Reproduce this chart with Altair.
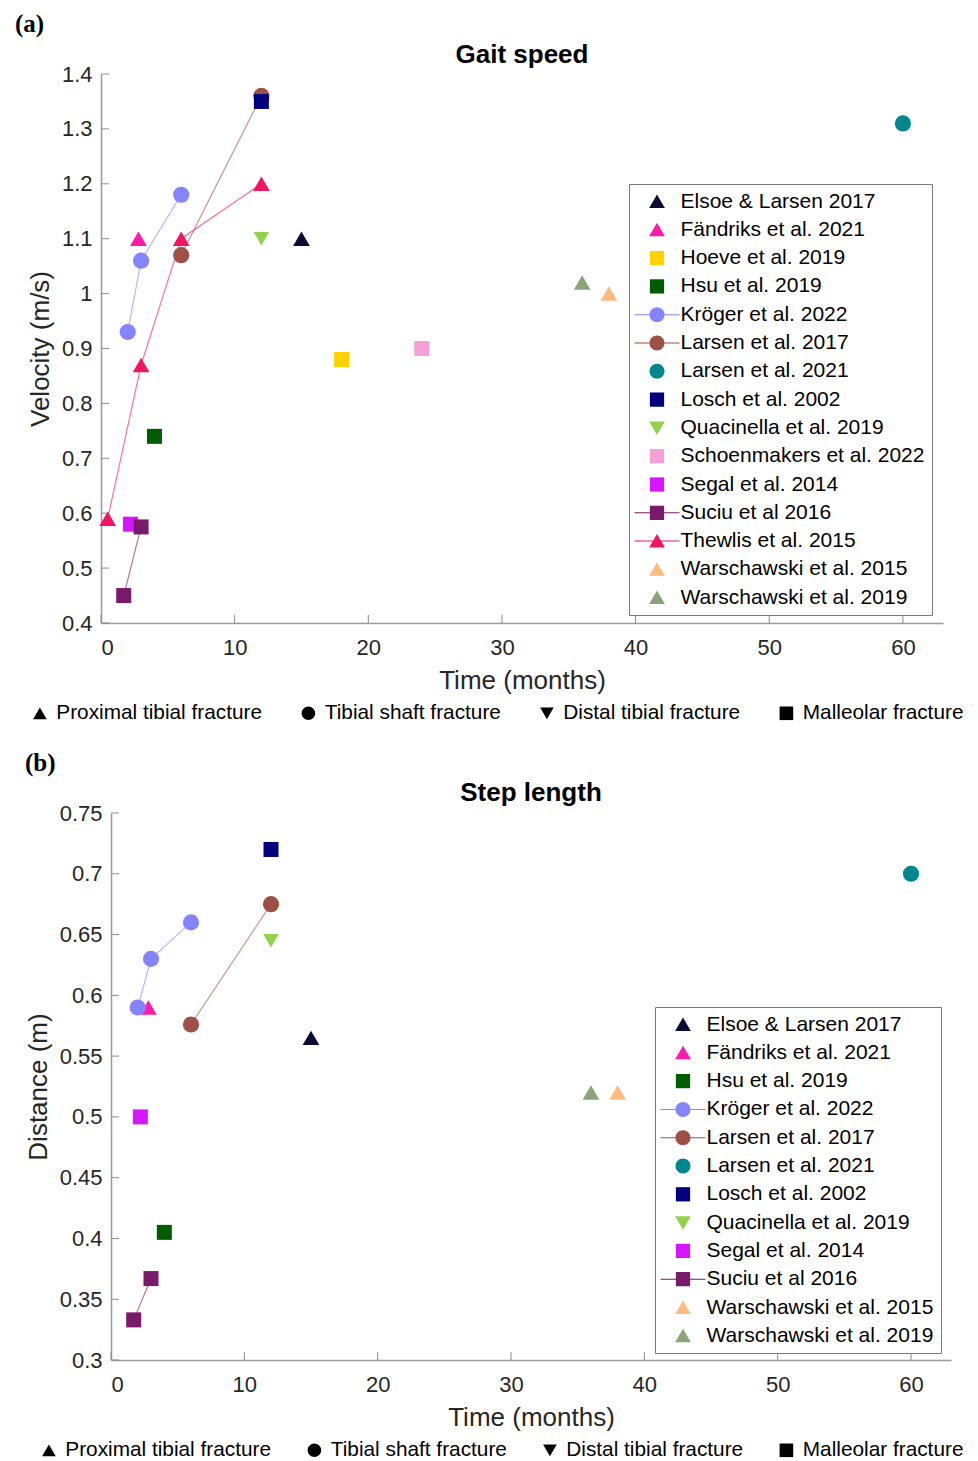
import altair as alt
import pandas as pd

# ---------------- study metadata (legend order) ----------------
STUDIES = ["Elsoe & Larsen 2017", "Fändriks et al. 2021", "Hoeve et al. 2019", "Hsu et al. 2019",
           "Kröger et al. 2022", "Larsen et al. 2017", "Larsen et al. 2021", "Losch et al. 2002",
           "Quacinella et al. 2019", "Schoenmakers et al. 2022", "Segal et al. 2014",
           "Suciu et al 2016", "Thewlis et al. 2015", "Warschawski et al. 2015", "Warschawski et al. 2019"]
STUDY_COLORS = ["#0a0a33", "#ff1aac", "#ffd200", "#005c00", "#8484ff", "#9e5046", "#00868f", "#00007f",
                "#93d24d", "#f5a0d8", "#d516ff", "#7a1a6b", "#f5145f", "#ffbb80", "#8aa57a"]
STUDY_FRACTURE = ["Proximal tibial fracture", "Proximal tibial fracture", "Malleolar fracture",
                  "Malleolar fracture", "Tibial shaft fracture", "Tibial shaft fracture",
                  "Tibial shaft fracture", "Malleolar fracture", "Distal tibial fracture",
                  "Malleolar fracture", "Malleolar fracture", "Malleolar fracture",
                  "Proximal tibial fracture", "Proximal tibial fracture", "Proximal tibial fracture"]

FRACTURES = ["Proximal tibial fracture", "Tibial shaft fracture", "Distal tibial fracture", "Malleolar fracture"]
FRACTURE_SHAPES = ["triangle-up", "circle", "triangle-down", "square"]
FRACTURE_SIZES = [280, 225, 280, 205]

# ---------------- (a) Gait speed ----------------
gait_study = ["Elsoe & Larsen 2017", "Fändriks et al. 2021", "Hoeve et al. 2019", "Hsu et al. 2019",
              "Kröger et al. 2022", "Kröger et al. 2022", "Kröger et al. 2022",
              "Larsen et al. 2017", "Larsen et al. 2017", "Larsen et al. 2021", "Losch et al. 2002",
              "Quacinella et al. 2019", "Schoenmakers et al. 2022", "Segal et al. 2014",
              "Suciu et al 2016", "Suciu et al 2016",
              "Thewlis et al. 2015", "Thewlis et al. 2015", "Thewlis et al. 2015", "Thewlis et al. 2015",
              "Warschawski et al. 2015", "Warschawski et al. 2019"]
gait_months = [15, 2.8, 18, 4, 2, 3, 6, 6, 12, 60, 12, 12, 24, 2.2, 1.7, 3, 0.5, 3, 6, 12, 38, 36]
gait_speed = [1.10, 1.10, 0.88, 0.74, 0.93, 1.06, 1.18, 1.07, 1.36, 1.31, 1.35, 1.10, 0.90, 0.58,
              0.45, 0.575, 0.59, 0.87, 1.10, 1.20, 1.00, 1.02]
gait_yticks = [0.4, 0.5, 0.6, 0.7, 0.8, 0.9, 1.0, 1.1, 1.2, 1.3, 1.4]

# ---------------- (b) Step length ----------------
step_study = ["Elsoe & Larsen 2017", "Fändriks et al. 2021", "Hsu et al. 2019",
              "Kröger et al. 2022", "Kröger et al. 2022", "Kröger et al. 2022",
              "Larsen et al. 2017", "Larsen et al. 2017", "Larsen et al. 2021", "Losch et al. 2002",
              "Quacinella et al. 2019", "Segal et al. 2014", "Suciu et al 2016", "Suciu et al 2016",
              "Warschawski et al. 2015", "Warschawski et al. 2019"]
step_months = [15, 2.8, 4, 2, 3, 6, 6, 12, 60, 12, 12, 2.2, 1.7, 3, 38, 36]
step_length = [0.565, 0.59, 0.405, 0.59, 0.63, 0.66, 0.576, 0.675, 0.70, 0.72, 0.645, 0.50,
               0.333, 0.367, 0.52, 0.52]
step_yticks = [0.3, 0.35, 0.4, 0.45, 0.5, 0.55, 0.6, 0.65, 0.7, 0.75]

X_TICKS = [0, 10, 20, 30, 40, 50, 60]

# legend symbol paths (unit box), optionally with a connecting line through them
MARKER_PATHS = {
    "Proximal tibial fracture": "M0,-0.95 L1.05,0.85 L-1.05,0.85 Z",
    "Tibial shaft fracture": "M-1,0 A1,1 0 1,1 1,0 A1,1 0 1,1 -1,0 Z",
    "Distal tibial fracture": "M0,0.95 L1.05,-0.85 L-1.05,-0.85 Z",
    "Malleolar fracture": "M-0.95,-0.95 L0.95,-0.95 L0.95,0.95 L-0.95,0.95 Z",
}
LINE_PATH = " M-3.0,-0.07 L3.0,-0.07 L3.0,0.07 L-3.0,0.07 Z"

color_of = dict(zip(STUDIES, STUDY_COLORS))
frac_of = dict(zip(STUDIES, STUDY_FRACTURE))

AX = "#262626"
TICK = "#8c8c8c"


def panel(tag, title, ytitle, study, months, values, ydom, yticks, w, h, x0,
          ytitle_x, leg_x, leg_y, frac_x, frac_y, frac_pad, title_y):
    df = pd.DataFrame({"study": study, "months": months, "value": values})
    df["fracture"] = df["study"].map(frac_of)
    present = set(study)
    domain = [s for s in STUDIES if s in present]
    colors = [color_of[s] for s in domain]
    counts = df["study"].value_counts()
    paths = [MARKER_PATHS[frac_of[s]] + (LINE_PATH if counts[s] > 1 else "") for s in domain]

    x = alt.X("months:Q", scale=alt.Scale(domain=[0, 63], nice=False, range=[x0, w]),
              axis=alt.Axis(values=X_TICKS, title="Time (months)", titleY=57, titleBaseline="middle",
                            titleX=x0 + (w - x0) / 2, titleAlign="center",
                            titleFontSize=26, titleFontWeight="normal", titleColor=AX,
                            labelFontSize=22, labelColor=AX, labelPadding=14,
                            domainColor="#9a9a9a", domainWidth=1.5, ticks=False, grid=False))
    yaxis_kw = dict(values=yticks, format="~g", title=ytitle, titleX=ytitle_x, titleY=h / 2,
                    titleAngle=270, titleBaseline="middle", titleAlign="center",
                    titleFontSize=26, titleFontWeight="normal", titleColor=AX,
                    labelFontSize=22, labelColor=AX, labelPadding=9,
                    domainColor="#9a9a9a", domainWidth=1.5, ticks=False, grid=False)
    if x0:
        yaxis_kw["offset"] = -x0
    y = alt.Y("value:Q", scale=alt.Scale(domain=ydom, nice=False, zero=False),
              axis=alt.Axis(**yaxis_kw))

    cscale = alt.Scale(domain=domain, range=colors)
    base = alt.Chart(df)

    # inward tick marks, placed through the scales
    xticks = alt.Chart(pd.DataFrame({"months": X_TICKS})).mark_rule(color=TICK, strokeWidth=1).encode(
        x=x, y=alt.value(h), y2=alt.value(h - 8))
    yticks_l = alt.Chart(pd.DataFrame({"value": yticks})).mark_rule(color=TICK, strokeWidth=1).encode(
        y=y, x=alt.value(x0), x2=alt.value(x0 + 8))

    lines = base.mark_line(strokeWidth=1.2, opacity=0.6).encode(
        x=x, y=y, color=alt.Color("study:N", scale=cscale, legend=None))

    pts = base.mark_point(filled=True, opacity=1, strokeWidth=0).encode(
        x=x, y=y,
        color=alt.Color("study:N", scale=cscale, legend=None),
        shape=alt.Shape("fracture:N", scale=alt.Scale(domain=FRACTURES, range=FRACTURE_SHAPES),
                        legend=None),
        size=alt.Size("fracture:O", scale=alt.Scale(domain=FRACTURES, range=FRACTURE_SIZES), legend=None))

    study_legend = alt.Legend(orient="none", legendX=leg_x, legendY=leg_y, direction="vertical",
                              title=None, padding=7, strokeColor="#7a7a7a", fillColor="white",
                              symbolSize=225, symbolOffset=10.5, symbolStrokeWidth=0, symbolOpacity=1,
                              labelFontSize=21, labelFont="Liberation Sans", labelColor="black",
                              labelOffset=13, rowPadding=6.3, labelLimit=400, cornerRadius=0)
    leg = base.transform_filter("false").mark_point(filled=True, opacity=1).encode(
        color=alt.Color("study:N", scale=cscale, legend=study_legend),
        shape=alt.Shape("study:N", scale=alt.Scale(domain=domain, range=paths), legend=study_legend))

    frac_legend = alt.Legend(orient="none", legendX=frac_x, legendY=frac_y, direction="horizontal",
                             columns=4, title=None, symbolSize=185, symbolFillColor="black",
                             symbolStrokeWidth=0, symbolOpacity=1,
                             labelFontSize=20.8, labelFont="Liberation Sans", labelColor="black",
                             labelOffset=6, columnPadding=frac_pad, labelLimit=400, padding=0)
    leg2 = base.transform_filter("false").mark_point(filled=True, opacity=1, color="black").encode(
        shape=alt.Shape("fracture:N", scale=alt.Scale(domain=FRACTURES, range=FRACTURE_SHAPES),
                        legend=frac_legend))

    tag_layer = alt.Chart(pd.DataFrame({"t": [tag]})).mark_text(
        align="left", baseline="middle", font="Liberation Serif", fontSize=25, fontWeight="bold",
        color="black").encode(text="t:N", x=alt.value(x0 - 86), y=alt.value(-50))

    title_layer = alt.Chart(pd.DataFrame({"t": [title]})).mark_text(
        align="center", baseline="middle", font="Liberation Sans", fontSize=26, fontWeight="bold",
        color="black").encode(text="t:N", x=alt.value(x0 + (w - x0) / 2), y=alt.value(title_y))

    return alt.layer(xticks, yticks_l, lines, pts, leg, leg2, tag_layer, title_layer).resolve_scale(
        color="independent", shape="independent", size="independent"
    ).properties(width=w, height=h)


top = panel("(a)", "Gait speed", "Velocity (m/s)", gait_study, gait_months, gait_speed,
            [0.4, 1.4], gait_yticks, 842, 549, 0, -61, 528, 110, -71.5, 628.5, 35.5, -19)
bottom = panel("(b)", "Step length", "Distance (m)", step_study, step_months, step_length,
               [0.3, 0.75], step_yticks, 850, 547, 10, -73, 554, 194, -62.5, 626.5, 32.5, -20)

chart = alt.vconcat(top, bottom, spacing=27).properties(
    padding={"left": 7, "top": 4, "right": 0, "bottom": 0}, background="white"
).configure(font="Liberation Sans").configure_view(strokeWidth=0, stroke="transparent")

chart.save("out.html", embed_options={"renderer": "svg", "actions": False})
